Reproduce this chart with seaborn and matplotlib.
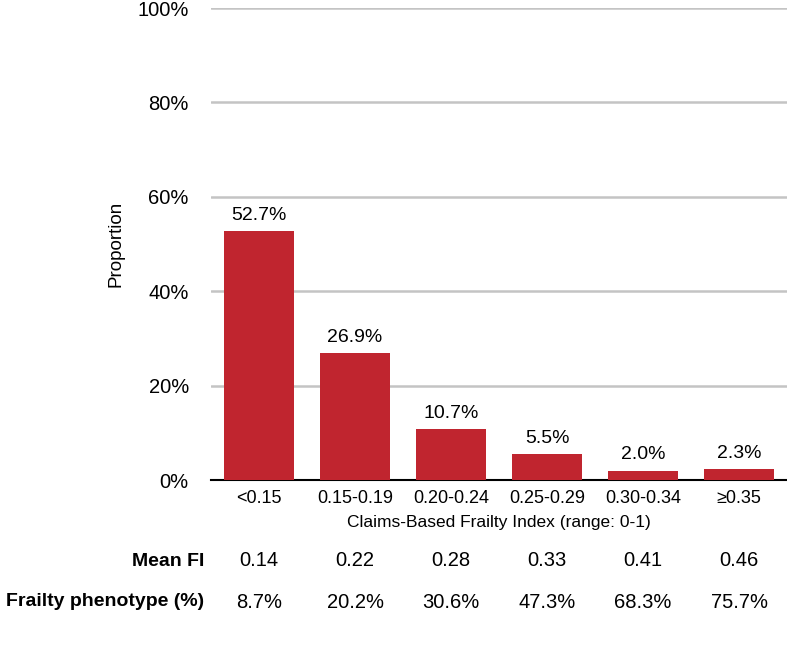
import matplotlib
matplotlib.use('Agg')
import matplotlib.pyplot as plt
import matplotlib.transforms as mtransforms
import seaborn as sns
import pandas as pd

# Datos
categorias = ['<0.15', '0.15-0.19', '0.20-0.24', '0.25-0.29', '0.30-0.34', '≥0.35']
proporcion = [52.7, 26.9, 10.7, 5.5, 2.0, 2.3]
mean_fi = ['0.14', '0.22', '0.28', '0.33', '0.41', '0.46']
fenotipo = ['8.7%', '20.2%', '30.6%', '47.3%', '68.3%', '75.7%']

df = pd.DataFrame({'cat': categorias, 'prop': proporcion})

sns.set_style('white')
plt.rcParams['font.family'] = ['Liberation Sans', 'DejaVu Sans']
plt.rcParams['text.color'] = 'black'
plt.rcParams['axes.labelcolor'] = 'black'
plt.rcParams['xtick.color'] = 'black'
plt.rcParams['ytick.color'] = 'black'

fig = plt.figure(figsize=(7.87, 6.70), dpi=100)
ax = fig.add_axes([211 / 787, 1 - 480 / 670, 576 / 787, 472 / 670])

sns.barplot(data=df, x='cat', y='prop', color='#C0252F', saturation=1,
            width=0.72, ax=ax, zorder=3, edgecolor='none')

ax.set_ylim(0, 100)
ax.set_xlim(-0.5, 5.5)
ax.set_yticks(range(0, 101, 20))
ax.set_yticklabels([f'{v}%' for v in range(0, 101, 20)])
ax.yaxis.grid(True, color='#C4C4C4', linewidth=1.8, zorder=0)
ax.set_axisbelow(True)
for s in ['top', 'right', 'left']:
    ax.spines[s].set_visible(False)
ax.spines['bottom'].set_color('black')
ax.spines['bottom'].set_linewidth(1.5)
ax.tick_params(axis='x', length=0, labelsize=13, pad=7)
ax.tick_params(axis='y', length=0, labelsize=14.5, pad=16)

ax.set_xlabel('Claims-Based Frailty Index (range: 0-1)', fontsize=12.5, labelpad=6)
ax.set_ylabel('Proportion', fontsize=13.5, labelpad=9)

for i, v in enumerate(proporcion):
    ax.text(i, v + 1.5, f'{v:.1f}%', ha='center', va='bottom', fontsize=14)

# tabla inferior
trans = mtransforms.blended_transform_factory(ax.transData, fig.transFigure)
cond = ['Liberation Sans Narrow', 'Liberation Sans', 'DejaVu Sans']
y1 = 1 - 561 / 670
y2 = 1 - 602 / 670
fig.text(204 / 787, y1, 'Mean FI', ha='right', va='center', fontsize=14,
         fontweight='bold', family=cond)
fig.text(204 / 787, y2, 'Frailty phenotype (%)', ha='right', va='center',
         fontsize=14, fontweight='bold', family=cond)
for i in range(len(categorias)):
    ax.text(i, y1, mean_fi[i], transform=trans, ha='center', va='center',
            fontsize=14.5, family=cond)
    ax.text(i, y2, fenotipo[i], transform=trans, ha='center', va='center',
            fontsize=14.5, family=cond)

fig.savefig('out.png', dpi=100)
